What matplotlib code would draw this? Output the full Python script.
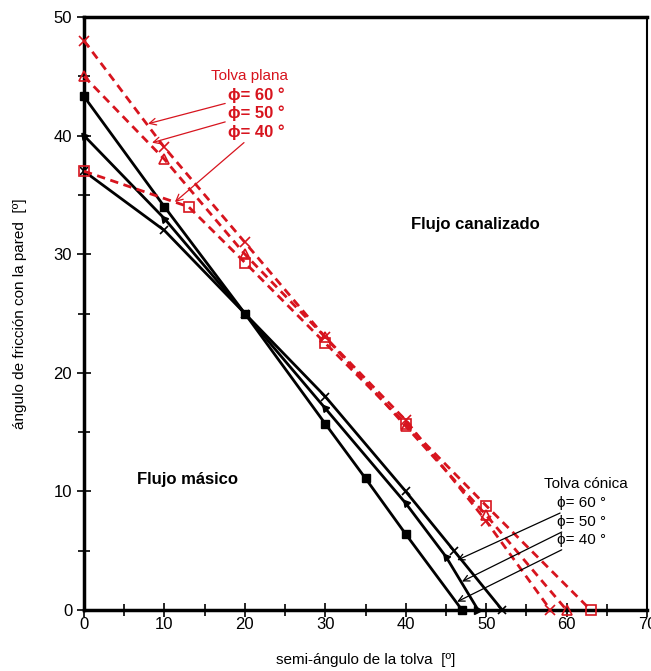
import matplotlib
matplotlib.use("Agg")
import matplotlib.pyplot as plt
from matplotlib.ticker import MultipleLocator

plt.rcParams["font.family"] = ["Liberation Sans", "DejaVu Sans"]

RED = "#d7141e"

# Tolva cónica (black, solid)
con60_x = [0, 10, 20, 30, 40, 46, 52]
con60_y = [37, 32, 25, 18, 10, 5, 0]
con50_x = [0, 10, 20, 30, 40, 45, 49]
con50_y = [40, 33, 25, 17, 9, 4.5, 0]
con40_x = [0, 10, 20, 30, 35, 40, 47]
con40_y = [43.3, 34, 25, 15.7, 11.1, 6.4, 0]

# Tolva plana (red, dashed)
pla60_x = [0, 10, 20, 30, 40, 50, 58]
pla60_y = [48, 39, 31, 23, 16, 7.5, 0]
pla50_x = [0, 10, 20, 30, 40, 50, 60]
pla50_y = [45, 38, 30, 23, 15.5, 8, 0]
pla40_x = [0, 13, 20, 30, 40, 50, 63]
pla40_y = [37, 34, 29.3, 22.5, 15.7, 8.8, 0]

phi_labels = ["\u03d5= 60 \u00b0", "\u03d5= 50 \u00b0", "\u03d5= 40 \u00b0"]

fig = plt.figure(figsize=(6.51, 6.71), dpi=100)
ax = fig.add_axes([84 / 651, 1 - 610 / 671, 563 / 651, 593 / 671])

tri = (3, 0, 40)
ax.plot(con60_x, con60_y, color="black", lw=2, marker="x", ms=6, mew=1.2, clip_on=False, zorder=3)
ax.plot(con50_x[:-1], con50_y[:-1], color="black", lw=2, marker=tri, ms=6, clip_on=False, zorder=3)
ax.plot(con50_x[-2:], con50_y[-2:], color="black", lw=2, zorder=3)
ax.plot(con50_x[-1:], con50_y[-1:], color="black", marker=">", ms=6, ls="none", clip_on=False, zorder=4)
ax.plot(con40_x, con40_y, color="black", lw=2, marker="s", ms=6, clip_on=False, zorder=3)

dash = (0, (3, 2))
ax.plot(pla60_x, pla60_y, color=RED, lw=2, ls=dash, marker="x", ms=7, mew=1.2,
        clip_on=False, zorder=3)
ax.plot(pla50_x, pla50_y, color=RED, lw=2, ls=dash, marker="^", ms=7, mfc="none",
        mew=1.2, clip_on=False, zorder=3)
ax.plot(pla40_x, pla40_y, color=RED, lw=2, ls=dash, marker="s", ms=7, mfc="none",
        mew=1.2, clip_on=False, zorder=3)

ax.set_xlim(0, 70)
ax.set_ylim(0, 50)
ax.xaxis.set_major_locator(MultipleLocator(10))
ax.xaxis.set_minor_locator(MultipleLocator(5))
ax.yaxis.set_major_locator(MultipleLocator(10))
ax.yaxis.set_minor_locator(MultipleLocator(5))
ax.tick_params(which="major", direction="inout", length=10, width=1.2, labelsize=12)
ax.tick_params(which="minor", direction="inout", length=8, width=1.2)
ax.tick_params(axis="x", pad=0)
for side in ["left", "bottom", "top"]:
    ax.spines[side].set_linewidth(2.5)
ax.spines["right"].set_linewidth(1.5)

ax.set_xlabel("semi-\u00e1ngulo de la tolva  [\u00ba]", fontsize=11, labelpad=15)
ax.set_ylabel("\u00e1ngulo de fricci\u00f3n con la pared  [\u00ba]", fontsize=11, labelpad=19)

# region labels
ax.text(48.6, 32.5, "Flujo canalizado", fontsize=12, fontweight="bold", ha="center", va="center")
ax.text(12.9, 11.0, "Flujo m\u00e1sico", fontsize=12, fontweight="bold", ha="center", va="center")

# Tolva plana annotations
ax.text(20.6, 45.0, "Tolva plana", color=RED, fontsize=11, ha="center", va="center")
plana_txt = [(17.9, 43.4), (17.9, 41.9), (17.9, 40.3)]
plana_tip = [(7.96, 41.0), (8.46, 39.4), (11.3, 34.4)]
for lab, txt, tip in zip(phi_labels, plana_txt, plana_tip):
    ax.annotate(lab, xy=tip, xytext=txt, color=RED, fontsize=12, fontweight="bold",
                va="center", ha="left",
                arrowprops=dict(arrowstyle="->", color=RED, lw=0.9, shrinkA=0, shrinkB=0))

# Tolva cónica annotations
ax.text(62.4, 10.6, "Tolva c\u00f3nica", color="black", fontsize=11, ha="center", va="center")
con_txt = [(58.8, 9.0), (58.8, 7.4), (58.8, 5.9)]
con_tip = [(46.4, 4.2), (47.0, 2.4), (46.4, 0.7)]
for lab, txt, tip in zip(phi_labels, con_txt, con_tip):
    ax.annotate(lab, xy=tip, xytext=txt, color="black", fontsize=11,
                va="center", ha="left",
                arrowprops=dict(arrowstyle="->", color="black", lw=0.9, shrinkA=0, shrinkB=0))

fig.savefig("out.png", dpi=100)
